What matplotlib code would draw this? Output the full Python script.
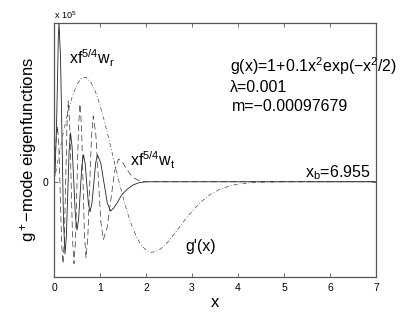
import matplotlib
matplotlib.use("Agg")
import matplotlib.pyplot as plt

plt.rcParams['font.family'] = ['Liberation Sans', 'DejaVu Sans']
plt.rcParams['mathtext.fontset'] = 'custom'
plt.rcParams['mathtext.rm'] = 'Liberation Sans'
plt.rcParams['mathtext.it'] = 'Liberation Sans'
plt.rcParams['mathtext.default'] = 'regular'
plt.rcParams['lines.scale_dashes'] = False

# values in units of 10^5
x_solid = [0, 0.022, 0.055, 0.08, 0.095, 0.109, 0.1415, 0.174, 0.2065, 0.239,
           0.269, 0.299, 0.329, 0.359, 0.394, 0.430, 0.465, 0.5,
           0.535, 0.570, 0.606, 0.641, 0.677, 0.712, 0.748, 0.783,
           0.824, 0.865, 0.905, 0.946, 1.017, 1.087, 1.158, 1.228,
           1.30, 1.38, 1.47, 1.60, 1.72, 1.85, 1.98, 2.1, 7.0]
y_solid = [0, 0.55, 3.5, 7.0, 9.2, 10.0, 7.87, 2.725, -2.42, -4.55,
           -3.43, -0.74, 1.95, 3.07, 2.18, 0.015, -2.15, -3.04,
           -2.35, -0.675, 1.00, 1.69, 1.164, -0.105, -1.374, -1.90,
           -1.374, -0.105, 1.164, 1.69, 1.173, -0.075, -1.323, -1.84,
           -1.65, -1.30, -0.83, -0.45, -0.20, -0.06, -0.01, 0, 0]

x_dash = [0, 0.025, 0.05, 0.076, 0.106, 0.136, 0.166, 0.196,
          0.225, 0.254, 0.282, 0.311, 0.342, 0.373, 0.404, 0.435,
          0.4675, 0.5, 0.5325, 0.565, 0.598, 0.6305, 0.663, 0.696,
          0.7355, 0.775, 0.8145, 0.854, 0.9085, 0.963, 1.0175, 1.072,
          1.1545, 1.237, 1.3195, 1.402, 1.47, 1.55, 1.65, 1.75, 1.85, 1.95, 2.05, 7.0]
y_dash = [0, 1.3, 2.8, 3.5, 2.23, -0.83, -3.89, -5.16,
          -3.66, -0.04, 3.58, 5.08, 3.58, -0.04, -3.66, -5.16,
          -3.69, -0.13, 3.43, 4.9, 3.48, 0.05, -3.38, -4.8,
          -3.49, -0.33, 2.83, 4.14, 3.00, 0.25, -2.50, -3.64,
          -2.90, -1.105, 0.69, 1.43, 1.30, 0.95, 0.50, 0.22, 0.07, 0.01, 0, 0]

x_gp = [0, 0.1, 0.2, 0.3, 0.4, 0.5, 0.6, 0.7, 0.8, 0.9, 1.0, 1.1, 1.2, 1.3, 1.4,
        1.5, 1.6, 1.7, 1.8, 1.9, 2.0, 2.1, 2.2, 2.3, 2.4, 2.5, 2.6, 2.7, 2.8, 2.9,
        3.0, 3.2, 3.4, 3.6, 3.8, 4.0, 4.3, 4.6, 5.0, 7.0]
y_gp = [0, 1.574, 3.055, 4.355, 5.404, 6.139, 6.534, 6.577, 6.281, 5.679, 4.822,
        3.773, 2.601, 1.376, 0.167, -0.968, -1.980, -2.835, -3.512, -4.001, -4.303,
        -4.438, -4.416, -4.271, -4.025, -3.708, -3.345, -2.964, -2.574, -2.202,
        -1.855, -1.253, -0.798, -0.481, -0.275, -0.149, -0.055, -0.017, -0.002, 0]

x_ticks = [0, 1, 2, 3, 4, 5, 6, 7]
y_ticks = [0]

fig = plt.figure(figsize=(4.15, 3.13), dpi=100)
ax = fig.add_axes([54/415, 36/313, 322/415, 254/313])

ax.plot(x_solid, y_solid, color='#222222', lw=0.6)
ax.plot(x_dash, y_dash, color='#333333', lw=0.5, dashes=(4.5, 2.5))
ax.plot(x_gp, y_gp, color='#333333', lw=0.45, dashes=(3.0, 1.5, 0.6, 1.5))

ax.set_xlim(0, 7)
ax.set_ylim(-6, 10)
ax.set_xticks(x_ticks)
ax.set_yticks(y_ticks)
ax.tick_params(direction='in', top=True, right=True, labelsize=7.5, length=3,
               width=0.6, color='#555555', pad=4)
for s in ax.spines.values():
    s.set_color('#555555')
    s.set_linewidth(0.9)

ax.set_xlabel('x', fontsize=12, labelpad=2)
ax.set_ylabel('g$^+$\u2212mode eigenfunctions', fontsize=12, labelpad=3)

fs = 11.5
ax.text(0.0, 10.15, 'x 10$^5$', fontsize=6.5, ha='left', va='bottom')
ax.text(0.33, 7.8, 'xf$^{5/4}$w$_r$', fontsize=fs, ha='left', va='center')
ax.text(3.83, 7.3, 'g(x)=1+0.1x$^2$exp(\u2212x$^2$/2)', fontsize=fs, ha='left', va='center')
ax.text(3.83, 5.95, '\u03bb=0.001', fontsize=fs, ha='left', va='center')
ax.text(3.87, 4.75, 'm=\u22120.00097679', fontsize=fs, ha='left', va='center')
ax.text(1.65, 1.35, 'xf$^{5/4}$w$_t$', fontsize=fs, ha='left', va='center')
ax.text(5.46, 0.6, 'x$_b$=6.955', fontsize=fs, ha='left', va='center')
ax.text(2.85, -4.1, "g'(x)", fontsize=fs, ha='left', va='center')

fig.savefig('out.png', dpi=100)
